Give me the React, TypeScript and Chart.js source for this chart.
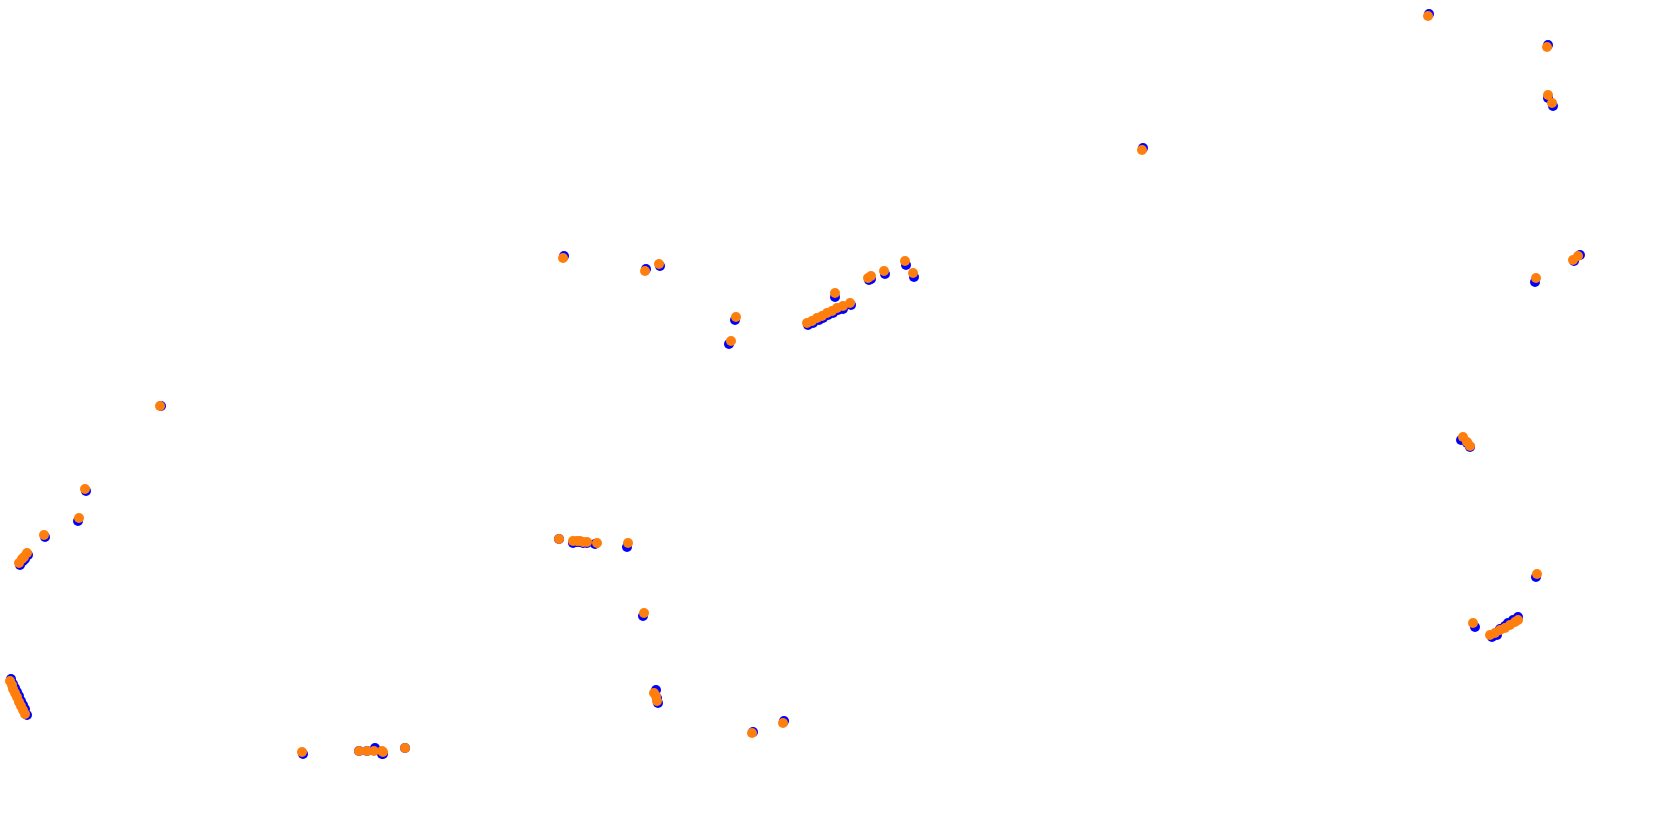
import React, { useEffect, useRef } from "react";
import { Chart, registerables } from "chart.js";

Chart.register(...registerables);

// Blue series (x, y)
const blueX = [
  1429, 1548, 1548, 1553, 1143, 564, 646, 660, 735, 729,
  808, 813, 819, 823, 828, 833, 838, 843, 851, 835,
  869, 871, 885, 906, 914, 161, 86, 78, 45,
  20, 23, 25, 28, 1535, 1574, 1580, 1461, 1467, 1470,
  559, 573, 577, 580, 583, 587, 595, 627, 643,
  656, 657, 658, 753, 784,
  303, 359, 367, 375, 382, 383, 405,
  11, 13, 15, 17, 19, 21, 23, 25, 27,
  1536, 1475, 1492, 1497, 1500, 1505, 1508, 1513, 1518,
];
const blueY = [
  14, 45, 98, 106, 148, 256, 269, 266, 320, 344,
  325, 323, 320, 318, 315, 313, 310, 309, 305, 297,
  280, 279, 274, 265, 277, 406, 491, 521, 537,
  565, 561, 559, 555, 282, 261, 255, 440, 443, 447,
  539, 543, 542, 542, 543, 543, 544, 547, 616,
  690, 698, 703, 732, 721,
  754, 751, 751, 748, 754, 754, 748,
  679, 684, 688, 692, 696, 701, 705, 709, 715,
  577, 627, 637, 635, 629, 626, 623, 620, 617,
];

// Orange series (x, y)
const orangeX = [
  1428, 1547, 1548, 1552, 1142, 563, 645, 659, 736, 731,
  807, 812, 817, 822, 827, 832, 837, 843, 850, 835,
  868, 871, 884, 905, 913, 160, 85, 79, 44,
  19, 22, 24, 27, 1536, 1573, 1578, 1463, 1467, 1470,
  559, 573, 577, 580, 583, 587, 597, 628, 644,
  654, 656, 657, 752, 783,
  302, 359, 367, 374, 382, 383, 405,
  10, 12, 13, 15, 17, 19, 21, 23, 25,
  1537, 1473, 1490, 1495, 1500, 1505, 1510, 1515, 1518,
];
const orangeY = [
  16, 47, 95, 103, 150, 258, 271, 264, 317, 341,
  323, 321, 318, 316, 313, 311, 308, 306, 303, 293,
  278, 276, 271, 261, 273, 406, 489, 518, 535,
  563, 559, 557, 553, 278, 260, 256, 437, 442, 446,
  539, 541, 541, 541, 542, 542, 543, 543, 613,
  693, 696, 701, 733, 723,
  752, 751, 751, 751, 751, 752, 748,
  681, 685, 689, 693, 697, 702, 706, 710, 714,
  574, 623, 635, 633, 630, 628, 625, 622, 620,
];

const toPoints = (xs: number[], ys: number[]) => xs.map((x, i) => ({ x, y: ys[i] }));

export default function App() {
  const ref = useRef<HTMLCanvasElement | null>(null);
  useEffect(() => {
    if (!ref.current) return;
    const chart = new Chart(ref.current, {
      type: "scatter",
      data: {
        datasets: [
          {
            label: "orange",
            data: toPoints(orangeX, orangeY),
            backgroundColor: "#ff7f0e",
            borderWidth: 0,
            pointRadius: 5,
            pointHoverRadius: 5,
          },
          {
            label: "blue",
            data: toPoints(blueX, blueY),
            backgroundColor: "#0000ff",
            borderWidth: 0,
            pointRadius: 5,
            pointHoverRadius: 5,
          },
        ],
      },
      options: {
        animation: false,
        responsive: false,
        maintainAspectRatio: false,
        layout: { padding: 0, autoPadding: false },
        plugins: { legend: { display: false }, tooltip: { enabled: false } },
        scales: {
          x: { type: "linear", min: 0, max: 1680, display: false },
          y: { type: "linear", min: 0, max: 833, reverse: true, display: false },
        },
      },
    });
    return () => chart.destroy();
  }, []);
  return (
    <canvas
      ref={ref}
      width={1680}
      height={833}
      style={{ position: "fixed", left: 0, top: 0, width: 1680, height: 833, background: "#fff" }}
    />
  );
}
